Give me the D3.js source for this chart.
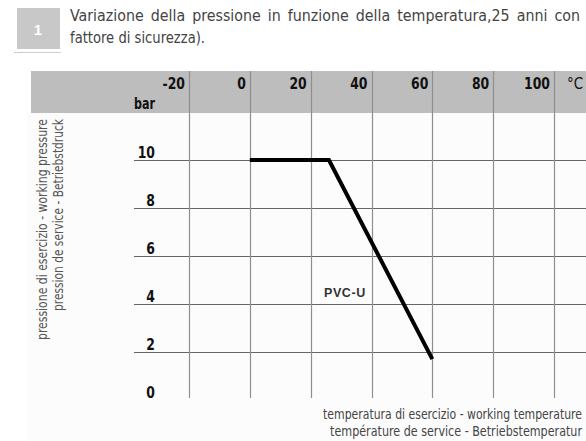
<!DOCTYPE html>
<html>
<head>
<meta charset="utf-8">
<script src="https://cdn.jsdelivr.net/npm/d3@7/dist/d3.min.js"></script>
<style>
  body { margin: 0; background: #fff; }
  svg { display: block; }
  .cond { font-family: "Liberation Sans Narrow", "DejaVu Sans Condensed", "Open Sans", sans-serif; font-stretch: condensed; }
</style>
</head>
<body>
<div id="chart"></div>
<script>
var tempTicks = [-20, 0, 20, 40, 60, 80, 100];
var pressureTicks = [0, 2, 4, 6, 8, 10];
var pvcTemp = [0, 26, 60];
var pvcPressure = [10, 10, 1.7];

var titleLine1 = "Variazione della pressione in funzione della temperatura,25 anni con";
var titleLine2 = "fattore di sicurezza).";
var yTitle = ["pressione di esercizio - working pressure", "pression de service - Betriebstdruck"];
var xTitle = ["temperatura di esercizio - working temperature", "température de service - Betriebstemperatur"];

var width = 586, height = 441;
var headerTop = 71, headerBottom = 113;

var x = d3.scaleLinear([-20, 100], [189, 554]);
var y = d3.scaleLinear([0, 10], [400, 160]);

var svg = d3.select("#chart").append("svg")
    .attr("width", width)
    .attr("height", height);

// squeeze a text to a given length (the original face is narrower than anything installed)
function squeeze(sel, len) {
    sel.attr("textLength", len).attr("lengthAdjust", "spacingAndGlyphs");
}

// title block
svg.append("rect").attr("x", 17).attr("y", 8).attr("width", 43).attr("height", 41).attr("fill", "#c8c8c8");
svg.append("text").attr("x", 38).attr("y", 35).attr("text-anchor", "middle")
    .attr("font-family", "Liberation Sans, Arial, sans-serif").attr("font-weight", "bold")
    .attr("font-size", 15).attr("fill", "#fff").text("1");
svg.append("line").attr("x1", 14).attr("x2", 61).attr("y1", 52.5).attr("y2", 52.5)
    .attr("stroke", "#ccc").attr("stroke-width", 1);

function justify(str, x0, x1, yy, gapWanted) {
    var g = svg.append("g").attr("class", "cond").attr("font-size", 15.5).attr("fill", "#444");
    var words = str.split(" ");
    var nodes = words.map(function (w) { return g.append("text").attr("y", yy).text(w); });
    var natural = nodes.map(function (n) { return n.node().getComputedTextLength(); });
    var k = (x1 - x0 - gapWanted * (words.length - 1)) / d3.sum(natural);
    var widths = natural.map(function (w) { return w * k; });
    nodes.forEach(function (n, i) { squeeze(n, widths[i]); });
    var gap = (x1 - x0 - d3.sum(widths)) / (words.length - 1);
    var cx = x0;
    nodes.forEach(function (n, i) { n.attr("x", cx); cx += widths[i] + gap; });
}
justify(titleLine1, 70, 580, 21, 7);
svg.append("text").attr("class", "cond").attr("font-size", 15.5).attr("fill", "#444")
    .attr("x", 70).attr("y", 43).text(titleLine2)
    .call(squeeze, 135);

// background
svg.append("rect").attr("x", 27).attr("y", headerBottom).attr("width", width - 27).attr("height", height - headerBottom)
    .attr("fill", "#fcfcfc");
svg.append("rect").attr("x", 31).attr("y", headerTop).attr("width", width - 31).attr("height", headerBottom - headerTop)
    .attr("fill", "#bdbdbd");

// grid
svg.append("g").selectAll("line")
    .data(pressureTicks.filter(function (d) { return d > 0; }))
    .enter().append("line")
    .attr("x1", 134).attr("x2", width)
    .attr("y1", function (d) { return Math.round(y(d)) + 0.5; })
    .attr("y2", function (d) { return Math.round(y(d)) + 0.5; })
    .attr("stroke", "#666").attr("stroke-width", 1);

svg.append("g").selectAll("line")
    .data(tempTicks)
    .enter().append("line")
    .attr("x1", function (d) { return Math.round(x(d)) + 0.5; })
    .attr("x2", function (d) { return Math.round(x(d)) + 0.5; })
    .attr("y1", headerTop).attr("y2", 398)
    .attr("stroke", "#8f8f8f").attr("stroke-width", 1.2);

// tick labels
svg.append("g").attr("class", "cond").attr("font-weight", "bold").attr("font-size", 15).attr("fill", "#111")
    .selectAll("text").data(tempTicks).enter().append("text")
    .attr("x", function (d) { return x(d) - 4; })
    .attr("y", 89)
    .attr("text-anchor", "end")
    .text(function (d) { return d; })
    .each(function () { squeeze(d3.select(this), this.getComputedTextLength() * 0.92); });

svg.append("text").attr("class", "cond").attr("font-size", 15).attr("fill", "#111")
    .attr("x", 567).attr("y", 89).text("°C");
svg.append("text").attr("class", "cond").attr("font-weight", "bold").attr("font-size", 15).attr("fill", "#111")
    .attr("x", 155).attr("y", 109).attr("text-anchor", "end").text("bar")
    .call(squeeze, 21);

svg.append("g").attr("class", "cond").attr("font-weight", "bold").attr("font-size", 15).attr("fill", "#111")
    .selectAll("text").data(pressureTicks).enter().append("text")
    .attr("x", 155)
    .attr("y", function (d) { return d === 0 ? 398 : y(d) - 2; })
    .attr("text-anchor", "end")
    .text(function (d) { return d; })
    .each(function () { squeeze(d3.select(this), this.getComputedTextLength() * 0.92); });

// curve
var line = d3.line()
    .x(function (d) { return x(d[0]); })
    .y(function (d) { return y(d[1]); });

svg.append("path")
    .datum(d3.zip(pvcTemp, pvcPressure))
    .attr("d", line)
    .attr("fill", "none")
    .attr("stroke", "#000")
    .attr("stroke-width", 4)
    .attr("stroke-linejoin", "miter");

svg.append("text")
    .attr("font-family", "Liberation Sans, Arial, sans-serif").attr("font-weight", "bold")
    .attr("font-size", 12.5).attr("letter-spacing", 0.6).attr("fill", "#333")
    .attr("x", 324).attr("y", 297).text("PVC-U");

// axis titles
var yTitleLen = [221, 192];
var yt = svg.append("g").attr("class", "cond").attr("font-size", 13.5).attr("fill", "#555");
yTitle.forEach(function (t, i) {
    yt.append("text")
        .attr("transform", "translate(" + (47 + i * 16) + "," + (119 + yTitleLen[i]) + ") rotate(-90)")
        .text(t)
        .call(squeeze, yTitleLen[i]);
});

// bottom titles: scaled horizontally so their boxes stay inside the picture
var xTitleLen = [259, 252];
xTitle.forEach(function (t, i) {
    var g = svg.append("g").attr("class", "cond").attr("font-size", 14).attr("fill", "#444");
    var txt = g.append("text").attr("text-anchor", "end").text(t);
    var k = xTitleLen[i] / txt.node().getComputedTextLength();
    g.attr("transform", "translate(582," + (419 + i * 17) + ") scale(" + k + ",1)");
});
</script>
</body>
</html>
